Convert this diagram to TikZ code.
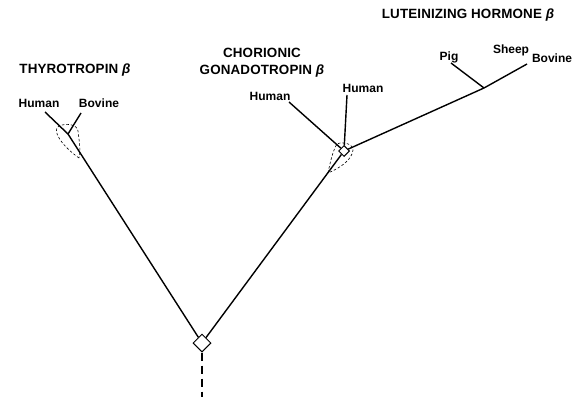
\documentclass[tikz,border=0pt]{standalone}
\usepackage{fontspec}
\setmainfont{Liberation Sans}
\usetikzlibrary{shapes.geometric}
\newcommand{\betasub}{{\itshape β}}
\begin{document}
\begin{tikzpicture}[x=1pt,y=-1pt,
  branch/.style={line width=1.4pt},
  guide/.style={dashed, dash pattern=on 2.5pt off 2pt, line width=0.6pt},
  stem/.style={line width=1.1pt, dash pattern=on 8pt off 5pt},
  species/.style={font=\fontsize{12}{14}\bfseries\selectfont, inner sep=0pt},
  family/.style={font=\fontsize{13.4}{17}\bfseries\addfontfeature{LetterSpace=1}\selectfont, inner sep=0pt, align=center},
  split/.style={diamond, draw, line width=1pt, inner sep=0pt, minimum width=#1, minimum height=#1, fill=white}]
\useasboundingbox (0,0) rectangle (585,401);

% branch points
\node[split=18pt] (root) at (202,343) {};
\node[split=11pt] (cg) at (344,151) {};
\coordinate (tsh) at (68,134);
\coordinate (lh) at (484,88);
\coordinate (base) at (202,397);

% leaf tips
\coordinate (tshHuman) at (45,112);
\coordinate (tshBovine) at (81,113);
\coordinate (cgHumanA) at (289,102);
\coordinate (cgHumanB) at (347,95);
\coordinate (lhPig) at (451,63);
\coordinate (lhSheep) at (527,64);

% uncertainty envelopes around the branch points
\draw[guide] (79,158) .. controls (62,146) and (51,130) .. (59,126)
  .. controls (66,123) and (77,124) .. (78,131)
  .. controls (79,140) and (81,150) .. cycle;
\draw[guide] (328,173) .. controls (330,163) and (333,150) .. (337,144)
  .. controls (343,141) and (353,144) .. (353,150)
  .. controls (352,160) and (340,168) .. cycle;

% tree
\draw[stem] (root) -- (base);
\draw[branch] (root) -- (tsh);
\draw[branch] (root) -- (cg);
\draw[branch] (tsh) -- (tshHuman);
\draw[branch] (tsh) -- (tshBovine);
\draw[branch] (cg) -- (cgHumanA);
\draw[branch] (cg) -- (cgHumanB);
\draw[branch] (cg) -- (lh);
\draw[branch] (lh) -- (lhPig);
\draw[branch] (lh) -- (lhSheep);

% hormone families
\node[family] (tshLabel) at (75,70) {THYROTROPIN \betasub};
\node[family] (cgLabel) at (262,63) {CHORIONIC\\GONADOTROPIN \betasub};
\node[family] (lhLabel) at (468,15) {LUTEINIZING HORMONE \betasub};

% species
\node[species] (sHumanA) at (39,103) {Human};
\node[species] (sBovineA) at (99,103) {Bovine};
\node[species] (sHumanB) at (270,96) {Human};
\node[species] (sHumanC) at (363,88) {Human};
\node[species] (sPig) at (449,57) {Pig};
\node[species] (sSheep) at (511,50) {Sheep};
\node[species] (sBovineB) at (552,58) {Bovine};
\end{tikzpicture}
\end{document}
